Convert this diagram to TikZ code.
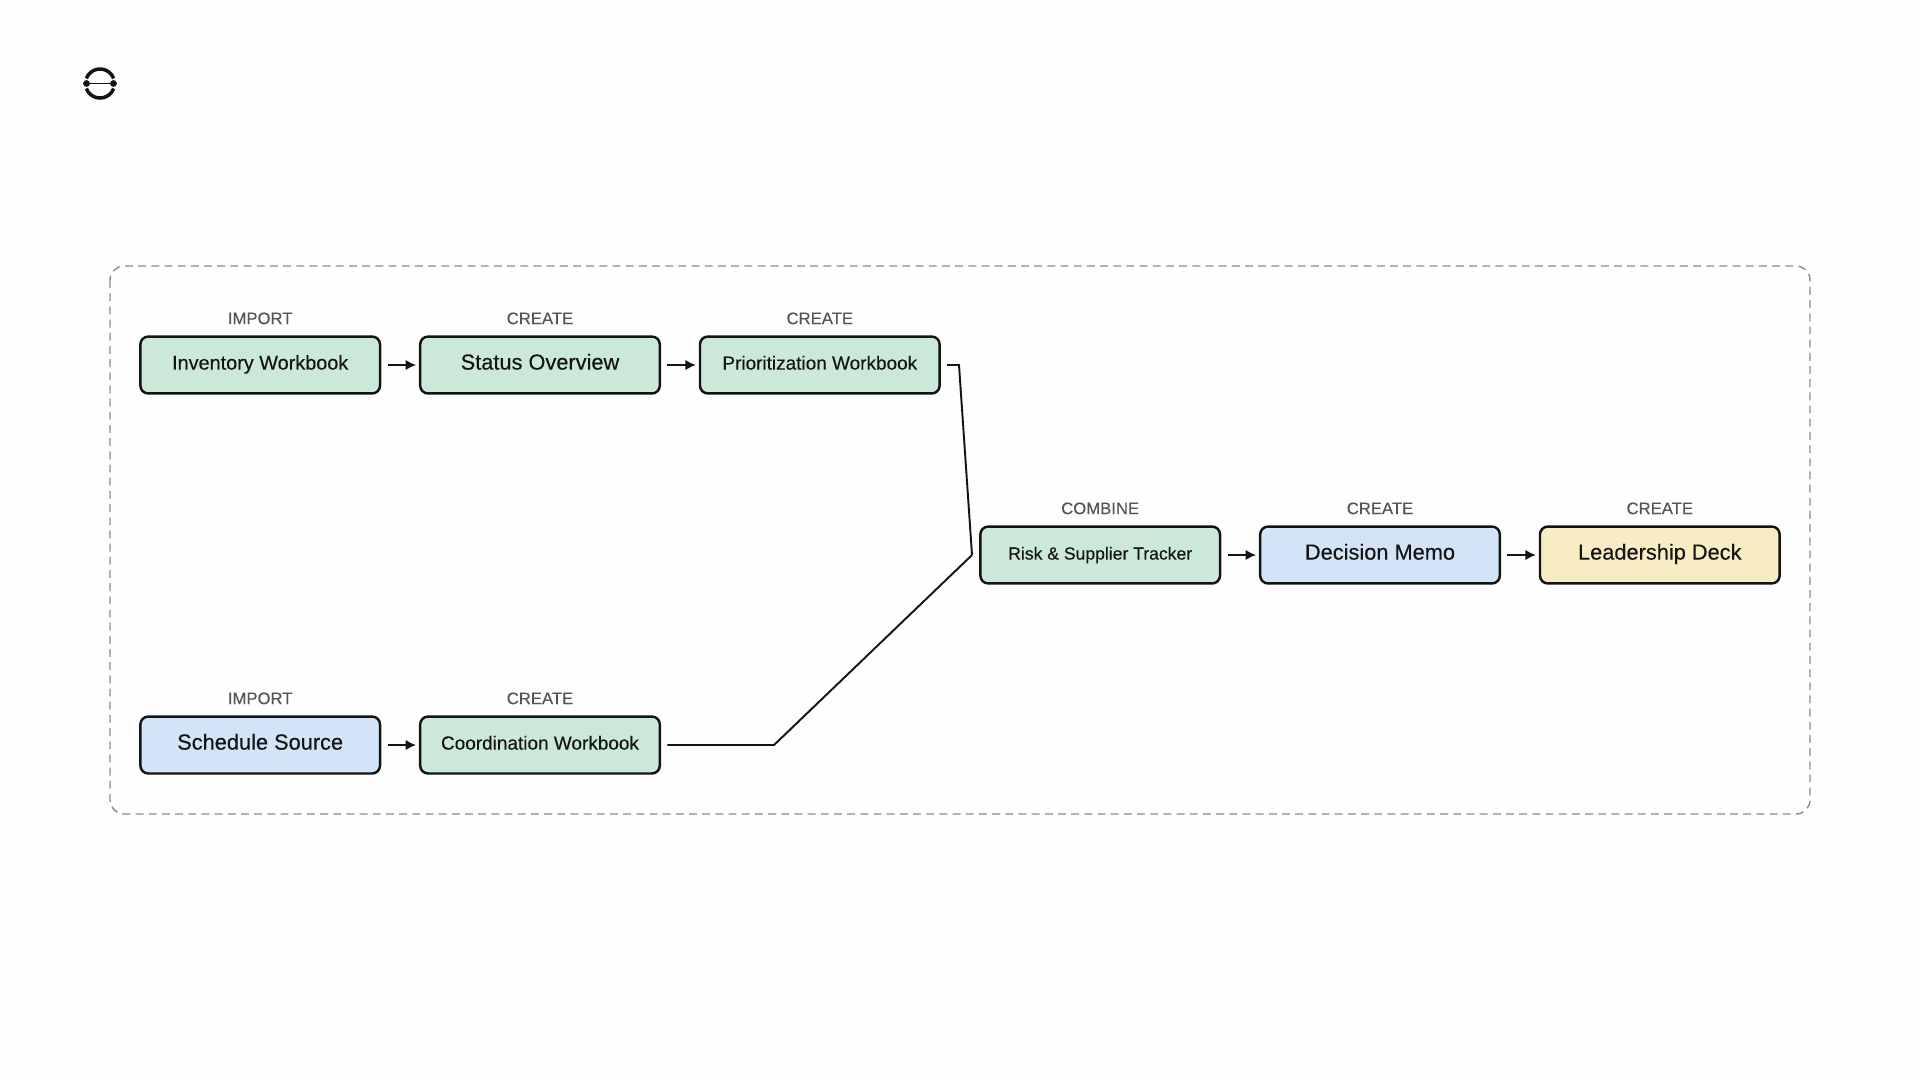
\documentclass[tikz,border=0pt]{standalone}
\usepackage{fontspec}
\setmainfont{Liberation Sans}[FakeBold=0.25]
\usepackage{tikz}
\usetikzlibrary{arrows.meta}
\definecolor{stepgreen}{HTML}{CBE8D9}
\definecolor{stepblue}{HTML}{D3E4F7}
\definecolor{stepyellow}{HTML}{F8ECC5}
\definecolor{inkdark}{HTML}{141414}
\definecolor{inkgray}{HTML}{555555}
\definecolor{framegray}{HTML}{8C8C8C}
\definecolor{paper}{HTML}{FEFEFE}
\tikzset{>={Latex[length=6pt,width=6pt]}}
\tikzset{
    stepbox/.style={draw=inkdark,line width=1.4pt,rounded corners=4.5pt,minimum width=136.4pt,minimum height=32.4pt,inner sep=0pt,text=inkdark,text height=0.72em,text depth=0.2em},
    big/.style={font=\fontsize{12.4}{15}\selectfont},
    mid/.style={font=\fontsize{11.3}{14}\selectfont},
    small/.style={font=\fontsize{10.8}{13}\selectfont},
    tiny/.style={font=\fontsize{10}{12}\selectfont},
    tag/.style={font=\fontsize{9.5}{11}\selectfont,text=inkgray,inner sep=0pt},
    flow/.style={->,line width=1.4pt,draw=inkdark,shorten <=3.6pt,shorten >=1.6pt},
    link/.style={line width=1.1pt,draw=inkdark,line join=miter},
}
\begin{document}
\begin{tikzpicture}[x=0.02cm,y=-0.02cm]
    \useasboundingbox (0,0) rectangle (1920,1080);
    \fill[paper] (0,0) rectangle (1920,1080);
    % Logo mark
    \draw[inkdark,line width=2pt] (100,83.5) ++(20:14.5) arc[start angle=20,end angle=160,radius=14.5];
    \draw[inkdark,line width=2pt] (100,83.5) ++(-20:14.5) arc[start angle=-20,end angle=-160,radius=14.5];
    \draw[inkdark,line width=1.1pt] (86.5,83.5) -- (113.5,83.5);
    \filldraw[inkdark] (86.5,83.5) circle (3) (113.5,83.5) circle (3);
    % Dashed frame
    \draw[framegray,line width=0.8pt,dash pattern=on 4.5pt off 3pt,rounded corners=8pt] (110,266) rectangle (1810,814);
    % Top row
    \node[stepbox,mid,fill=stepgreen] (inv) at (260.2,365) {Inventory Workbook};
    \node[stepbox,big,fill=stepgreen] (stat) at (540,365) {Status Overview};
    \node[stepbox,small,fill=stepgreen] (prio) at (819.8,365) {Prioritization Workbook};
    % Middle row
    \node[stepbox,tiny,fill=stepgreen] (risk) at (1100.2,555) {Risk \& Supplier Tracker};
    \node[stepbox,big,fill=stepblue] (memo) at (1380,555) {Decision Memo};
    \node[stepbox,big,fill=stepyellow] (deck) at (1659.8,555) {Leadership Deck};
    % Bottom row
    \node[stepbox,big,fill=stepblue] (sched) at (260.2,745) {Schedule Source};
    \node[stepbox,small,fill=stepgreen] (coord) at (540,745) {Coordination Workbook};
    % Step labels
    \node[tag] (invtag) at (260.2,318.4) {IMPORT};
    \node[tag] (stattag) at (540,318.4) {CREATE};
    \node[tag] (priotag) at (819.8,318.4) {CREATE};
    \node[tag] (risktag) at (1100.2,508.4) {COMBINE};
    \node[tag] (memotag) at (1380,508.4) {CREATE};
    \node[tag] (decktag) at (1659.8,508.4) {CREATE};
    \node[tag] (schedtag) at (260.2,698.4) {IMPORT};
    \node[tag] (coordtag) at (540,698.4) {CREATE};
    % Arrows between neighbours
    \foreach \a/\b in {inv/stat,stat/prio,risk/memo,memo/deck,sched/coord} {
        \draw[flow] (\a) -- (\b);
    }
    % Merge lines
    \coordinate (kneetop) at (959,365);
    \coordinate (kneelow) at (774,745);
    \coordinate (merge) at (972,555);
    \draw[link,shorten <=3.6pt] (prio) -- (kneetop) -- (merge);
    \draw[link,shorten <=3.6pt] (coord) -- (kneelow) -- (merge);
\end{tikzpicture}
\end{document}
